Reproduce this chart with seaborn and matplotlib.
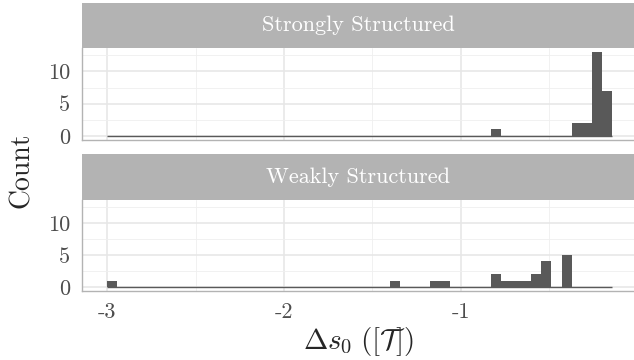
import numpy as np
import pandas as pd
import matplotlib
matplotlib.use("Agg")
from matplotlib import pyplot as plt
import seaborn as sns

# bin layout (50 equal bins)
bin_lo = -3.005
bin_hi = -0.143
n_bins = 50

panels = ["Strongly Structured", "Weakly Structured"]

# counts per bin, left to right
strong_counts = [0, 0, 0, 0, 0, 0, 0, 0, 0, 0,
                 0, 0, 0, 0, 0, 0, 0, 0, 0, 0,
                 0, 0, 0, 0, 0, 0, 0, 0, 0, 0,
                 0, 0, 0, 0, 0, 0, 0, 0, 1, 0,
                 0, 0, 0, 0, 0, 0, 2, 2, 13, 7]
weak_counts = [1, 0, 0, 0, 0, 0, 0, 0, 0, 0,
               0, 0, 0, 0, 0, 0, 0, 0, 0, 0,
               0, 0, 0, 0, 0, 0, 0, 0, 1, 0,
               0, 0, 1, 1, 0, 0, 0, 0, 2, 1,
               1, 1, 2, 4, 0, 5, 0, 0, 0, 0]

x_ticks = [-3, -2, -1]
x_ticklabels = ["-3", "-2", "-1"]
y_ticks = [0, 5, 10]
y_ticklabels = ["0", "5", "10"]

sns.set_theme(style="white")
plt.rcParams["font.family"] = ["cmr10", "DejaVu Serif"]
plt.rcParams["mathtext.fontset"] = "cm"
plt.rcParams["axes.unicode_minus"] = False
plt.rcParams["axes.formatter.use_mathtext"] = True

W, H = 634, 360
fig = plt.figure(figsize=(W / 100, H / 100), dpi=100)


def px_axes(x0, y0, x1, y1):
    # pixel box (top-left origin) -> figure axes
    return fig.add_axes([x0 / W, 1 - y1 / H, (x1 - x0) / W, (y1 - y0) / H])


edges = np.linspace(bin_lo, bin_hi, n_bins + 1)
centers = (edges[:-1] + edges[1:]) / 2

bar_col = "#595959"
boxes = [(3, 48, 140), (154, 200, 291)]
data = [strong_counts, weak_counts]

for i, (name, counts) in enumerate(zip(panels, data)):
    s_top, p_top, p_bot = boxes[i]

    strip = px_axes(82, s_top, W, p_top)
    strip.set_facecolor("#B3B3B3")
    strip.set_xticks([])
    strip.set_yticks([])
    for sp in strip.spines.values():
        sp.set_visible(False)
    strip.text(0.5, 0.5, name, transform=strip.transAxes, ha="center",
               va="center", color="white", fontsize=16)

    df = pd.DataFrame({"ds0": centers, "n": counts})
    ax = px_axes(82, p_top, W, p_bot)
    ax.set_facecolor("white")
    ax.set_axisbelow(True)
    ax.hlines(0, edges[0], edges[-1], color=bar_col, lw=1.0, zorder=2)
    sns.histplot(data=df, x="ds0", weights="n", bins=list(edges), ax=ax,
                 color=bar_col, alpha=1, linewidth=0, zorder=3)

    ax.set_xlim(-3.144, -0.019)
    ax.set_ylim(-0.65, 13.65)
    ax.set_xticks(x_ticks)
    ax.set_xticks([-2.5, -1.5, -0.5], minor=True)
    ax.set_yticks(y_ticks)
    ax.set_yticks([2.5, 7.5, 12.5], minor=True)
    ax.set_yticklabels(y_ticklabels)
    ax.grid(which="major", color="#E6E6E6", lw=1.1)
    ax.grid(which="minor", color="#EFEFEF", lw=0.6)
    ax.set_xlabel("")
    ax.set_ylabel("")
    ax.tick_params(axis="both", which="major", length=4.5, width=0.8,
                   color="#B3B3B3", labelcolor="#4D4D4D", labelsize=16, pad=4)
    ax.tick_params(axis="both", which="minor", length=0)
    for side in ["top", "right"]:
        ax.spines[side].set_visible(False)
    for side in ["left", "bottom"]:
        ax.spines[side].set_color("#B3B3B3")
        ax.spines[side].set_linewidth(1.0)
    if i == 0:
        ax.set_xticklabels([])
        ax.tick_params(axis="x", length=0)
    else:
        ax.set_xticklabels(x_ticklabels)

fig.text(22 / W, 1 - 170 / H, "Count", rotation=90, ha="center", va="center",
         fontsize=20)
fig.text(358 / W, 1 - 342 / H, r"$\Delta s_0\;([\mathcal{T}])$", ha="center",
         va="center", fontsize=21)

fig.savefig("out.png", dpi=100)
